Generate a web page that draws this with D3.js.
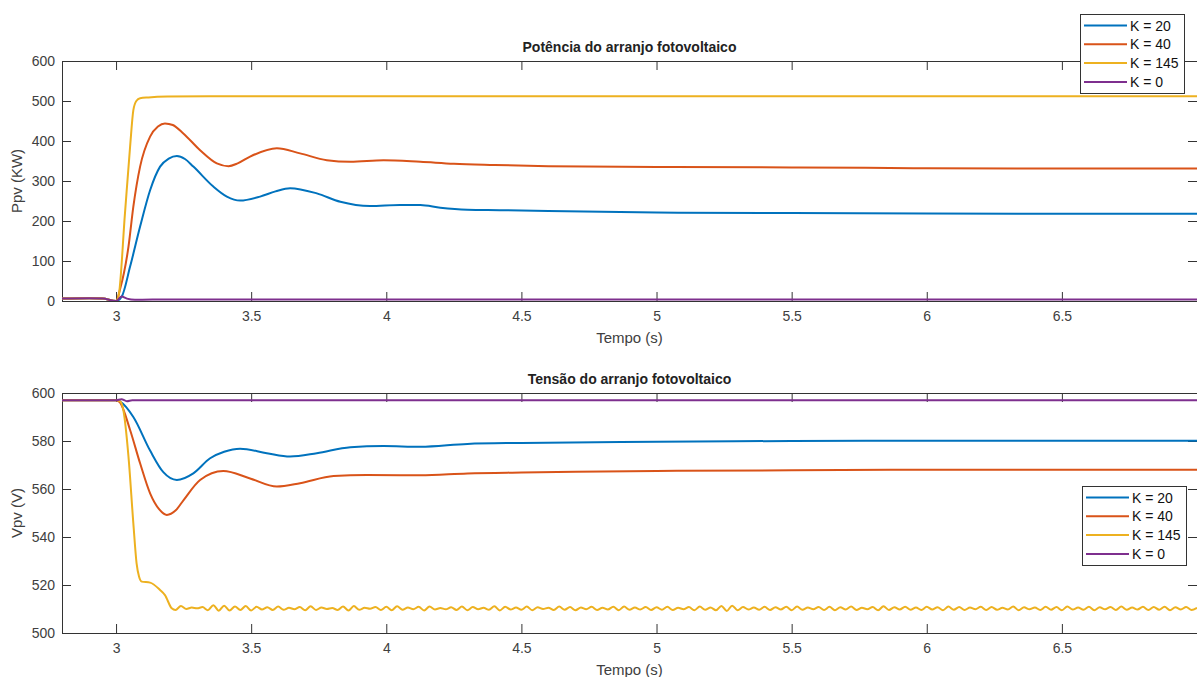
<!DOCTYPE html>
<html>
<head>
<meta charset="utf-8">
<script src="https://cdn.jsdelivr.net/npm/d3@7"></script>
<style>
  body { margin: 0; background: #fff; }
  svg { display: block; font-family: "Liberation Sans", Arial, sans-serif; }
</style>
</head>
<body>
<div id="chart"></div>
<script>
// ---- data ----
const seriesNames = ["K = 20", "K = 40", "K = 145", "K = 0"];
const seriesColors = ["#0072BD", "#D95319", "#EDB120", "#7E2F8E"];
const xTicks = [3, 3.5, 4, 4.5, 5, 5.5, 6, 6.5];

// Power (kW)
const tP20 = [2.8, 2.9, 2.95, 3.0, 3.021, 3.052, 3.089, 3.126, 3.163, 3.195, 3.225, 3.255, 3.286, 3.36, 3.41, 3.459, 3.533, 3.59, 3.644, 3.743, 3.83, 3.94, 4.05, 4.126, 4.2, 4.3, 4.42, 4.6, 5.0, 5.5, 6.0, 6.5, 7.0];
const pK20 = [6, 7, 6, 0, 11, 86, 186, 277, 336, 356, 362.5, 355, 336, 286, 261, 251, 261, 274, 282, 269, 248, 237.5, 240, 240, 233, 228, 227, 225, 221, 220, 219, 218, 218];
const tP40 = [2.8, 2.9, 2.95, 3.0, 3.015, 3.046, 3.064, 3.089, 3.126, 3.155, 3.181, 3.21, 3.249, 3.311, 3.373, 3.416, 3.45, 3.496, 3.595, 3.681, 3.78, 3.867, 3.99, 4.126, 4.25, 4.4, 4.6, 5.0, 5.5, 6.0, 6.5, 7.0];
const pK40 = [6, 7, 6, 0, 30, 136, 236, 336, 411, 436, 444, 440, 419, 377, 344, 337, 344, 361, 382, 369, 352, 348, 352, 348, 343, 340, 337, 335, 334, 332, 331, 331];
const tP145 = [2.8, 2.9, 2.95, 3.0, 3.01, 3.033, 3.052, 3.064, 3.075, 3.089, 3.12, 3.19, 3.4, 7.0];
const pK145 = [6, 7, 6, 0, 15, 219, 386, 477, 500, 507, 509, 511, 512, 512];
const tP0 = [2.8, 2.9, 2.95, 3.0, 3.02, 3.04, 3.07, 3.2, 4.0, 5.0, 6.0, 7.0];
const pK0 = [6, 7, 6, 0, 11, 6, 3, 4, 4, 4, 4, 4];

// Voltage (V)
const tV20 = [2.8, 3.0, 3.015, 3.064, 3.126, 3.175, 3.225, 3.286, 3.348, 3.40, 3.459, 3.558, 3.644, 3.743, 3.867, 3.99, 4.126, 4.3, 4.5, 5.0, 5.5, 6.0, 7.0];
const vK20 = [597, 597, 596.4, 590, 576, 567, 563.75, 566.5, 572.8, 575.5, 576.8, 574.9, 573.5, 574.9, 577.4, 577.9, 577.6, 578.8, 579.2, 579.7, 580, 580.1, 580.1];
const tV40 = [2.8, 3.0, 3.015, 3.052, 3.089, 3.126, 3.16, 3.188, 3.22, 3.25, 3.311, 3.397, 3.496, 3.595, 3.681, 3.805, 3.928, 4.126, 4.3, 4.5, 4.7, 5.0, 5.5, 6.0, 7.0];
const vK40 = [597, 597, 596, 584.6, 570.7, 558.2, 551.5, 549.2, 551, 555.4, 563.75, 567.5, 564.4, 561, 562.4, 565.4, 565.8, 565.7, 566.5, 566.9, 567.2, 567.5, 567.8, 568, 568];
const tV145 = [2.8, 3.0, 3.015, 3.027, 3.046, 3.064, 3.076, 3.085, 3.095, 3.126, 3.163, 3.181, 3.206];
const vK145 = [597, 597, 596.5, 592.9, 573.5, 545.7, 529, 523.5, 521.4, 521, 517.9, 515.8, 510.3];
// K = 145 settles with a small ripple, sampled every 0.02 s from 3.22 s
const vK145Ripple = [
  509.6, 511.2, 510.0, 510.6, 510.3, 510.8, 509.5, 511.6, 509.3, 511.4,
  509.4, 511.0, 509.6, 511.2, 509.4, 510.9, 509.8, 510.7, 509.6, 511.0,
  509.7, 510.5, 509.9, 510.8, 509.5, 511.1, 509.6, 510.6, 510.0, 510.4,
  509.6, 511.0, 509.4, 511.2, 509.7, 510.5, 510.1, 510.8, 509.6, 510.9,
  509.5, 511.1, 509.7, 510.6, 509.9, 510.9, 509.4, 511.0, 509.8, 510.4,
  509.9, 510.7, 509.6, 511.0, 509.5, 510.8, 509.9, 510.5, 509.7, 511.1,
  509.4, 510.9, 509.8, 510.6, 509.7, 511.0, 509.5, 510.7, 510.0, 510.5,
  509.6, 511.0, 509.7, 510.8, 509.5, 510.6, 509.9, 510.9, 509.6, 510.5,
  509.8, 510.9, 509.5, 511.0, 509.7, 510.6, 509.8, 510.8, 509.6, 510.7,
  509.7, 510.9, 509.6, 510.5, 509.9, 510.8, 509.5, 511.0, 509.7, 510.6,
  509.5, 511.3, 509.2, 511.4, 509.5, 510.8, 509.8, 510.6, 509.7, 510.9,
  509.6, 510.7, 509.8, 510.9, 509.5, 511.0, 509.7, 510.6, 509.9, 510.8,
  509.6, 510.9, 509.5, 510.7, 509.8, 511.0, 509.6, 510.5, 509.9, 510.8,
  509.5, 511.1, 509.6, 510.7, 509.8, 510.9, 509.7, 510.6, 509.6, 510.9,
  509.8, 510.7, 509.5, 511.0, 509.7, 510.8, 509.6, 510.6, 509.9, 510.9,
  509.6, 510.8, 509.7, 510.5, 509.8, 511.0, 509.5, 510.7, 509.9, 510.6,
  509.6, 510.9, 509.7, 510.8, 509.5, 511.0, 509.8, 510.6, 509.7, 510.9,
  509.5, 510.7, 509.9, 510.8, 509.6, 511.0, 509.7, 510.6, 509.8, 510.9,
  509.6, 510.8, 509.7, 510.9, 509.5, 510.7, 509.8, 510.8, 509.6, 510.5
];
const tV0 = [2.8, 3.0, 3.02, 3.04, 3.06, 3.5, 4.5, 5.5, 7.0];
const vK0 = [597, 597, 597.4, 596.6, 597, 597, 597, 597, 597];

const pTicks = [0, 100, 200, 300, 400, 500, 600];
const vTicks = [500, 520, 540, 560, 580, 600];

// ---- layout ----
const width = 1197, height = 677;
const left = 62, right = 1197;
const axColor = "#333", txtColor = "#404040";

const svg = d3.select("#chart").append("svg")
    .attr("width", width)
    .attr("height", height);

const xScale = d3.scaleLinear().domain([2.8, 7.0]).range([left, right]);

const zip = (ts, vs) => ts.map((t, i) => ({ t, v: vs[i] }));
const tRipple = vK145Ripple.map((_, i) => 3.22 + i * 0.02);

function panel({ top, bottom, yDomain, yTicks, title, yLabel, series, legendBox, id }) {
    const yScale = d3.scaleLinear().domain(yDomain).range([bottom, top]);
    const g = svg.append("g");

    g.append("clipPath").attr("id", id)
        .append("rect")
        .attr("x", left).attr("y", top)
        .attr("width", right - left).attr("height", bottom - top);

    // axes, ticks pointing inward (MATLAB style box)
    g.append("g")
        .attr("transform", `translate(0,${bottom})`)
        .call(d3.axisBottom(xScale).tickValues(xTicks).tickSize(-9).tickSizeOuter(0).tickPadding(10).tickFormat(d3.format("")));
    g.append("g")
        .attr("transform", `translate(0,${top})`)
        .call(d3.axisTop(xScale).tickValues(xTicks).tickSize(-9).tickSizeOuter(0).tickFormat(""));
    g.append("g")
        .attr("transform", `translate(${left},0)`)
        .call(d3.axisLeft(yScale).tickValues(yTicks).tickSize(-9).tickSizeOuter(0).tickPadding(7));
    g.append("g")
        .attr("transform", `translate(${right},0)`)
        .call(d3.axisRight(yScale).tickValues(yTicks).tickSize(-9).tickSizeOuter(0).tickFormat(""));

    g.selectAll(".domain, .tick line").attr("stroke", axColor);
    g.selectAll(".tick text")
        .attr("fill", txtColor)
        .style("font-size", "14px")
        .style("font-family", "Liberation Sans, Arial, sans-serif");

    // curves
    const line = d3.line()
        .x(d => xScale(d.t))
        .y(d => yScale(d.v))
        .curve(d3.curveMonotoneX);

    g.append("g").attr("clip-path", `url(#${id})`)
        .selectAll("path")
        .data(series)
        .join("path")
        .attr("d", d => line(d))
        .attr("fill", "none")
        .attr("stroke", (d, i) => seriesColors[i])
        .attr("stroke-width", 2)
        .attr("stroke-linejoin", "round");

    // title
    g.append("text")
        .attr("x", (left + right) / 2)
        .attr("y", top - 9)
        .attr("text-anchor", "middle")
        .style("font-size", "14px")
        .style("font-weight", "bold")
        .attr("fill", "#222")
        .text(title);

    // x label
    g.append("text")
        .attr("x", (left + right) / 2)
        .attr("y", bottom + 42)
        .attr("text-anchor", "middle")
        .style("font-size", "15px")
        .attr("fill", txtColor)
        .text("Tempo (s)");

    // y label
    g.append("text")
        .attr("transform", `translate(22,${(top + bottom) / 2}) rotate(-90)`)
        .attr("text-anchor", "middle")
        .style("font-size", "15px")
        .attr("fill", txtColor)
        .text(yLabel);

    // legend
    const lg = g.append("g");
    lg.append("rect")
        .attr("x", legendBox.x + 0.5).attr("y", legendBox.y + 0.5)
        .attr("width", legendBox.w).attr("height", legendBox.h)
        .attr("fill", "#fff")
        .attr("stroke", axColor);
    seriesNames.forEach((name, i) => {
        const yy = legendBox.y + 11.5 + i * 18.8;
        lg.append("line")
            .attr("x1", legendBox.x + 4).attr("x2", legendBox.x + 47)
            .attr("y1", yy).attr("y2", yy)
            .attr("stroke", seriesColors[i])
            .attr("stroke-width", 2);
        lg.append("text")
            .attr("x", legendBox.x + 50)
            .attr("y", yy + 5)
            .style("font-size", "14px")
            .attr("fill", "#111")
            .text(name);
    });
}

panel({
    id: "clipP",
    top: 61, bottom: 301,
    yDomain: [0, 600], yTicks: pTicks,
    title: "Potência do arranjo fotovoltaico",
    yLabel: "Ppv (KW)",
    series: [zip(tP20, pK20), zip(tP40, pK40), zip(tP145, pK145), zip(tP0, pK0)],
    legendBox: { x: 1080, y: 14, w: 104, h: 79 }
});

panel({
    id: "clipV",
    top: 393, bottom: 633,
    yDomain: [500, 600], yTicks: vTicks,
    title: "Tensão do arranjo fotovoltaico",
    yLabel: "Vpv (V)",
    series: [zip(tV20, vK20), zip(tV40, vK40), zip(tV145, vK145).concat(zip(tRipple, vK145Ripple)), zip(tV0, vK0)],
    legendBox: { x: 1082, y: 486, w: 104, h: 79 }
});
</script>
</body>
</html>
